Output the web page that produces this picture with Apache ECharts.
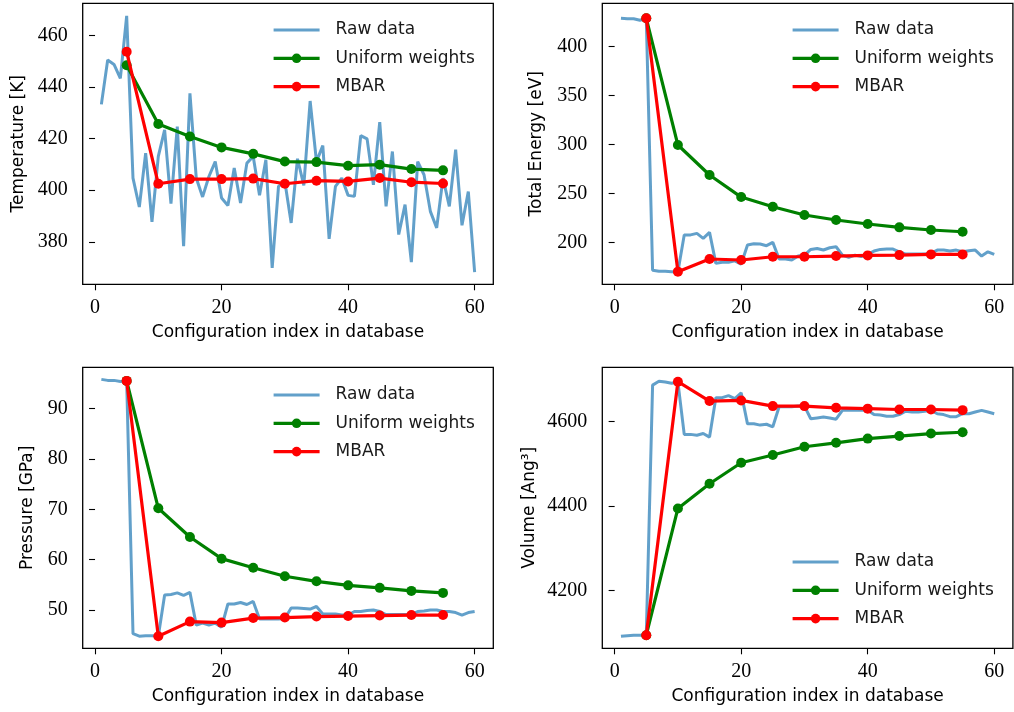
<!DOCTYPE html>
<html>
<head>
<meta charset="utf-8">
<script src="https://cdn.jsdelivr.net/npm/echarts@6/dist/echarts.min.js"></script>
<style>
  html, body { margin: 0; padding: 0; background: #ffffff; }
  #chart { width: 1014px; height: 712px; }
</style>
</head>
<body>
<div id="chart"></div>
<script>
// Configuration index of every frame in the database
const configIndex = [
  1, 2, 3, 4, 5, 6, 7, 8, 9, 10,
  11, 12, 13, 14, 15, 16, 17, 18, 19, 20,
  21, 22, 23, 24, 25, 26, 27, 28, 29, 30,
  31, 32, 33, 34, 35, 36, 37, 38, 39, 40,
  41, 42, 43, 44, 45, 46, 47, 48, 49, 50,
  51, 52, 53, 54, 55, 56, 57, 58, 59, 60
];
// Database sizes at which the averages were evaluated
const sampleSizes = [5, 10, 15, 20, 25, 30, 35, 40, 45, 50, 55];

// Temperature [K]
const tempRaw = [
  433.3, 450.5, 448.8, 443.4, 467.6, 404.7, 393.5, 414.4, 387.7, 413.1,
  423.4, 394.8, 424.7, 378.3, 437.6, 404.7, 397.4, 405.3, 411.1, 397.0,
  394.1, 408.6, 395.0, 410.5, 413.1, 398.0, 411.8, 369.9, 401.5, 403.4,
  387.3, 412.2, 401.9, 434.6, 411.1, 417.3, 381.1, 401.5, 404.7, 398.0,
  397.6, 421.2, 419.9, 402.1, 426.4, 393.7, 415.0, 382.8, 394.4, 372.1,
  411.1, 406.0, 391.8, 385.4, 404.7, 393.7, 415.7, 386.4, 399.5, 368.2
];
const tempUniform = [448.5, 425.7, 420.8, 416.6, 414.1, 411.1, 410.9, 409.5, 409.9, 408.2, 407.7];
const tempMbar = [453.7, 402.5, 404.3, 404.3, 404.5, 402.5, 403.7, 403.4, 404.7, 403.1, 402.6];

// Total energy [eV]
const energyRaw = [
  429.0, 428.5, 428.5, 427.0, 429.0, 172.0, 171.0, 171.0, 170.4, 170.5,
  207.9, 208.0, 209.6, 204.5, 210.6, 179.0, 180.0, 180.0, 181.5, 178.0,
  197.7, 199.0, 198.7, 197.0, 200.4, 183.4, 183.4, 182.4, 186.4, 187.4,
  193.2, 194.2, 192.6, 194.9, 195.9, 187.4, 185.1, 187.4, 185.8, 188.1,
  191.5, 193.2, 193.5, 193.5, 190.8, 188.4, 188.4, 188.4, 188.4, 189.1,
  192.5, 192.5, 191.5, 192.5, 190.8, 191.8, 192.5, 186.4, 190.8, 188.1
];
const energyUniform = [429.0, 299.7, 269.1, 246.6, 236.7, 228.3, 223.2, 219.1, 215.7, 213.0, 211.2];
const energyMbar = [429.0, 170.5, 183.4, 182.4, 185.7, 185.7, 186.4, 187.1, 187.4, 188.1, 188.1];

// Pressure [GPa]
const pressureRaw = [
  95.8, 95.6, 95.6, 95.4, 95.5, 45.3, 44.8, 44.9, 44.9, 44.8,
  53.0, 53.1, 53.4, 52.9, 53.5, 47.0, 47.4, 47.0, 47.4, 46.6,
  51.2, 51.2, 51.5, 51.1, 51.7, 48.2, 48.2, 48.2, 48.2, 48.3,
  50.4, 50.4, 50.3, 50.2, 50.7, 49.2, 49.2, 49.2, 49.0, 49.0,
  49.7, 49.7, 49.9, 50.0, 49.7, 49.1, 49.1, 49.1, 49.1, 49.1,
  49.7, 49.8, 50.0, 50.0, 49.7, 49.7, 49.5, 49.0, 49.5, 49.7
];
const pressureUniform = [95.5, 70.2, 64.5, 60.2, 58.4, 56.7, 55.7, 54.9, 54.4, 53.8, 53.4];
const pressureMbar = [95.5, 44.8, 47.7, 47.5, 48.4, 48.5, 48.7, 48.8, 48.9, 49.0, 49.0];

// Volume [Ang^3]
const volumeRaw = [
  4091.6, 4093.0, 4094.0, 4094.0, 4094.0, 4686.8, 4696.0, 4694.0, 4691.0, 4694.0,
  4570.0, 4570.0, 4568.0, 4572.0, 4563.6, 4657.0, 4657.0, 4662.0, 4655.0, 4668.7,
  4595.0, 4595.0, 4592.0, 4594.0, 4588.0, 4635.5, 4635.5, 4635.5, 4637.0, 4637.0,
  4607.0, 4609.0, 4611.0, 4609.0, 4606.0, 4627.0, 4627.0, 4627.0, 4628.0, 4627.0,
  4617.0, 4616.0, 4613.0, 4613.0, 4617.0, 4625.0, 4623.0, 4623.0, 4625.0, 4627.0,
  4619.0, 4617.0, 4612.0, 4612.0, 4619.0, 4619.0, 4623.0, 4627.0, 4623.0, 4619.0
];
const volumeUniform = [4094.0, 4394.4, 4453.0, 4502.8, 4521.0, 4540.7, 4550.0, 4560.0, 4566.0, 4572.0, 4575.0];
const volumeMbar = [4094.0, 4694.8, 4649.0, 4650.5, 4637.0, 4637.0, 4633.0, 4631.0, 4629.0, 4629.0, 4627.5];

// Tick labels
const xTicks = [0, 20, 40, 60];
const tempTicks = [380, 400, 420, 440, 460];
const energyTicks = [200, 250, 300, 350, 400];
const pressureTicks = [50, 60, 70, 80, 90];
const volumeTicks = [4200, 4400, 4600];

const seriesNames = ['Raw data', 'Uniform weights', 'MBAR'];
const xLabel = 'Configuration index in database';

const SANS = 'DejaVu Sans';
const SERIF = 'Liberation Serif';

const panels = [
  { name: 'Temperature [K]', raw: tempRaw, uni: tempUniform, mbar: tempMbar, ticks: tempTicks,
    ylim: [363.5, 472.5], left: 82.7, top: 3.3, nameGap: 56, legendLeft: 272, legendTop: 21.5 },
  { name: 'Total Energy [eV]', raw: energyRaw, uni: energyUniform, mbar: energyMbar, ticks: energyTicks,
    ylim: [157.6, 444.3], left: 602.3, top: 3.3, nameGap: 57, legendLeft: 791, legendTop: 21.5 },
  { name: 'Pressure [GPa]', raw: pressureRaw, uni: pressureUniform, mbar: pressureMbar, ticks: pressureTicks,
    ylim: [42.4, 98.2], left: 82.7, top: 367.3, nameGap: 47, legendLeft: 272, legendTop: 386.5 },
  { name: 'Volume [Ang\u00B3]', raw: volumeRaw, uni: volumeUniform, mbar: volumeMbar, ticks: volumeTicks,
    ylim: [4063, 4729], left: 602.3, top: 367.3, nameGap: 64, legendLeft: 791, legendTop: 553.5 }
];

const PLOT_W = 410.6;
const PLOT_H = 281;
const RAW_W = 3;
const LINE_W = 3.2;
const MARKER = 10;

const grid = [], xAxis = [], yAxis = [], series = [], legend = [];

const tickStyle = { show: true, inside: false, length: 6, lineStyle: { color: '#000', width: 1.1 } };
const plainNumber = (v) => String(v);

panels.forEach((p, k) => {
  grid.push({
    left: p.left, top: p.top, width: PLOT_W, height: PLOT_H,
    show: true, borderColor: '#000', borderWidth: 1.3, backgroundColor: 'transparent',
    containLabel: false
  });
  xAxis.push({
    gridIndex: k, type: 'value', min: -1.95, max: 62.95,
    axisLine: { show: false },
    axisTick: Object.assign({ customValues: xTicks }, tickStyle),
    axisLabel: { customValues: xTicks, formatter: plainNumber, margin: 13, color: '#000', fontFamily: SERIF, fontSize: 20 },
    splitLine: { show: false },
    name: xLabel, nameLocation: 'middle', nameGap: 40,
    nameTextStyle: { color: '#000', fontFamily: SANS, fontSize: 17 }
  });
  yAxis.push({
    gridIndex: k, type: 'value', min: p.ylim[0], max: p.ylim[1],
    axisLine: { show: false },
    axisTick: Object.assign({ customValues: p.ticks }, tickStyle),
    axisLabel: { customValues: p.ticks, formatter: plainNumber, margin: 15, color: '#000', fontFamily: SERIF, fontSize: 20 },
    splitLine: { show: false },
    name: p.name, nameLocation: 'middle', nameGap: p.nameGap,
    nameTextStyle: { color: '#000', fontFamily: SANS, fontSize: 17 }
  });

  series.push({
    name: seriesNames[0], type: 'line', xAxisIndex: k, yAxisIndex: k,
    data: configIndex.map((x, i) => [x, p.raw[i]]),
    symbol: 'none', animation: false, z: 2,
    lineStyle: { color: '#1f77b4', width: RAW_W, opacity: 0.7 },
    itemStyle: { color: '#1f77b4', opacity: 0.7 }
  });
  series.push({
    name: seriesNames[1], type: 'line', xAxisIndex: k, yAxisIndex: k,
    data: sampleSizes.map((x, i) => [x, p.uni[i]]),
    symbol: 'circle', symbolSize: MARKER, animation: false, z: 3,
    lineStyle: { color: '#008000', width: LINE_W },
    itemStyle: { color: '#008000' }
  });
  series.push({
    name: seriesNames[2], type: 'line', xAxisIndex: k, yAxisIndex: k,
    data: sampleSizes.map((x, i) => [x, p.mbar[i]]),
    symbol: 'circle', symbolSize: MARKER, animation: false, z: 4,
    lineStyle: { color: '#ff0000', width: LINE_W },
    itemStyle: { color: '#ff0000' }
  });

  legend.push({
    data: [
      { name: seriesNames[0], itemStyle: { opacity: 0 } },
      { name: seriesNames[1] },
      { name: seriesNames[2] }
    ],
    orient: 'vertical', left: p.legendLeft, top: p.legendTop,
    padding: 0, itemWidth: 46, itemHeight: 12, itemGap: 11.3,
    selectedMode: false,
    lineStyle: { width: LINE_W },
    textStyle: { color: '#1a1a1a', fontFamily: SANS, fontSize: 17, lineHeight: 17, padding: [0, 0, 0, 11] }
  });
});

const chart = echarts.init(document.getElementById('chart'), null, { renderer: 'canvas' });
chart.setOption({
  backgroundColor: '#ffffff',
  animation: false,
  grid, xAxis, yAxis, series, legend
});
</script>
</body>
</html>
